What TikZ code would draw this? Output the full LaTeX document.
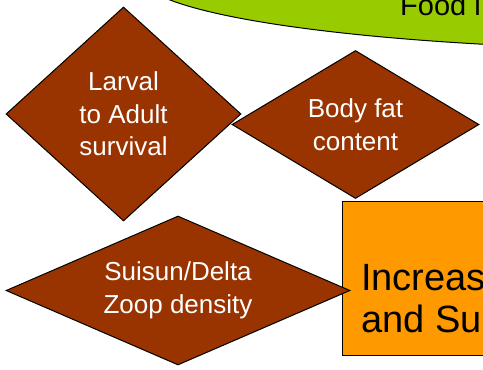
\documentclass[tikz,border=0pt]{standalone}
\usepackage{fontspec}
\setmainfont{Liberation Sans}
\usepackage{xcolor}
\usetikzlibrary{shapes.geometric}
\definecolor{factorbrown}{HTML}{993300}
\definecolor{foodgreen}{HTML}{99CC00}
\definecolor{effectorange}{HTML}{FF9900}

\begin{document}
\begin{tikzpicture}[x=1pt, y=-1pt,
        factor/.style={diamond, draw=black, line width=1pt, fill=factorbrown,
            text=white, inner sep=0pt, align=center,
            font=\fontsize{26}{32.5}\selectfont},
        bigtext/.style={inner sep=0pt, text=black}
    ]
    % 绘制食物因子的局部示意图
    \useasboundingbox (0,0) rectangle (483,370);
    \clip (0,0) rectangle (483,370);
    \node[ellipse, draw=black, line width=1pt, fill=foodgreen,
        minimum width=1120pt, minimum height=148pt] (food) at (700,-24) {};
    \node[bigtext, anchor=base west, font=\fontsize{29}{35}\selectfont] (foodtext) at (400,15) {Food l};
    \node[draw=black, line width=1pt, fill=effectorange, anchor=north west,
        minimum width=400pt, minimum height=154pt] (increase) at (342,201) {};
    \node[bigtext, anchor=north west, align=left,
        font=\fontsize{38}{42}\selectfont] (increasetext) at (361,264) {Increas\\and Sui};
    \node[factor, aspect=1.1, minimum width=235pt, minimum height=214pt] (larval) at (123.5,114) {Larval\\to Adult\\survival};
    \node[factor, aspect=1.67, minimum width=247pt, minimum height=148pt] (bodyfat) at (355.5,124.5) {Body fat\\content};
    \node[factor, aspect=2.3, minimum width=344pt, minimum height=149pt] (zoop) at (178,290.5) {Suisun/Delta\\Zoop density};
\end{tikzpicture}
\end{document}
